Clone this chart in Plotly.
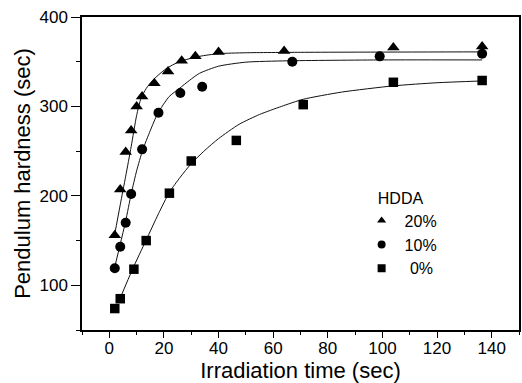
import plotly.graph_objects as go

# Measured data points (Irradiation time [sec], Pendulum hardness [sec])
t20 = [2, 4, 6, 8, 10, 12, 16.5, 21.5, 26.5, 31.5, 40, 64, 104, 136.5]
h20 = [156, 207, 249, 273, 300, 311, 326, 339, 351, 356, 361, 362, 366, 367]

t10 = [2, 4, 6, 8, 12, 18, 26, 34, 67, 99, 136.5]
h10 = [119, 143, 170, 202, 252, 293, 315, 322, 350, 356, 359]

t0 = [2, 4, 9, 13.5, 22, 30, 46.5, 71, 104, 136.5]
h0 = [74, 85, 118, 150, 203, 239, 262, 302, 327, 329]

# Fitted curves
fit20_x = [1.8, 4, 6, 8, 10, 11.6, 13.5, 15.8, 20.7, 25.6, 33, 40, 50, 70, 136.5]
fit20_y = [154, 190, 222, 255, 290, 309, 320, 329, 342, 350, 356, 359, 360, 360.5, 361]

fit10_x = [1.8, 4, 6, 8, 10, 12.2, 15, 17.7, 21.9, 25.6, 29.3, 33, 40, 50, 65, 100, 136.5]
fit10_y = [118, 146, 172, 202, 228, 251, 273, 292, 311, 320, 329, 337, 345, 349.5, 351, 352, 352]

fit0_x = [3.9, 8.5, 13.4, 18, 22, 26, 30, 35, 40, 47.5, 55, 63, 71, 85, 104, 120, 136.5]
fit0_y = [85, 118, 150, 180, 204, 221, 236, 251, 264, 280, 291, 300, 308, 316, 323, 326.5, 328.5]

labels = ["20%", "10%", "\u20040%"]
symbols = ["triangle-up", "circle", "square"]
sizes = [11, 10, 9.5]

FONT = "Liberation Sans, Arial, sans-serif"

fig = go.Figure()

for fx, fy in [(fit20_x, fit20_y), (fit10_x, fit10_y), (fit0_x, fit0_y)]:
    fig.add_trace(go.Scatter(x=fx, y=fy, mode="lines",
                             line=dict(color="#111111", width=1, shape="spline", smoothing=0.6),
                             showlegend=False, hoverinfo="skip"))

for tx, hy, sym, sz in [(t20, h20, symbols[0], sizes[0]),
                        (t10, h10, symbols[1], sizes[1]),
                        (t0, h0, symbols[2], sizes[2])]:
    fig.add_trace(go.Scatter(x=tx, y=hy, mode="markers",
                             marker=dict(symbol=sym, size=sz, color="black"),
                             showlegend=False))

# legend entries with smaller symbols
for lab, sym in zip(labels, symbols):
    fig.add_trace(go.Scatter(x=[None], y=[None], mode="markers", name=lab,
                             marker=dict(symbol=sym, size=8, color="black")))

fig.update_layout(
    width=522, height=383,
    margin=dict(l=82, r=1, t=17, b=53),
    paper_bgcolor="white", plot_bgcolor="white",
    font=dict(family=FONT, size=17, color="black"),
    showlegend=True,
    legend=dict(
        title=dict(text="HDDA", font=dict(family=FONT, size=16), side="top center"),
        font=dict(family=FONT, size=16),
        itemwidth=36,
        x=0.633, xanchor="left", y=0.47, yanchor="top",
        bgcolor="rgba(0,0,0,0)", borderwidth=0,
    ),
    xaxis=dict(
        range=[-10, 150], showgrid=False, zeroline=False,
        tickmode="array", tickvals=[0, 20, 40, 60, 80, 100, 120, 140],
        ticks="outside", ticklen=6, tickwidth=1.2, tickcolor="black",
        ticklabelstandoff=-4,
        minor=dict(ticks="outside", ticklen=3, tickwidth=1, tickcolor="black", dtick=10, tick0=0),
        showline=True, linecolor="black", linewidth=1.5, mirror=True,
        title=dict(text="Irradiation time (sec)", font=dict(family=FONT, size=22), standoff=1),
        tickfont=dict(family=FONT, size=17),
    ),
    yaxis=dict(
        range=[50, 400], showgrid=False, zeroline=False,
        tickmode="array", tickvals=[100, 200, 300, 400],
        ticks="outside", ticklen=9, tickwidth=1.2, tickcolor="black",
        minor=dict(ticks="outside", ticklen=4, tickwidth=1, tickcolor="black", dtick=50, tick0=0),
        showline=True, linecolor="black", linewidth=1.5, mirror=True,
        title=dict(text="Pendulum hardness (sec)", font=dict(family=FONT, size=22), standoff=3),
        tickfont=dict(family=FONT, size=17),
    ),
)

fig.write_html("out.html")
